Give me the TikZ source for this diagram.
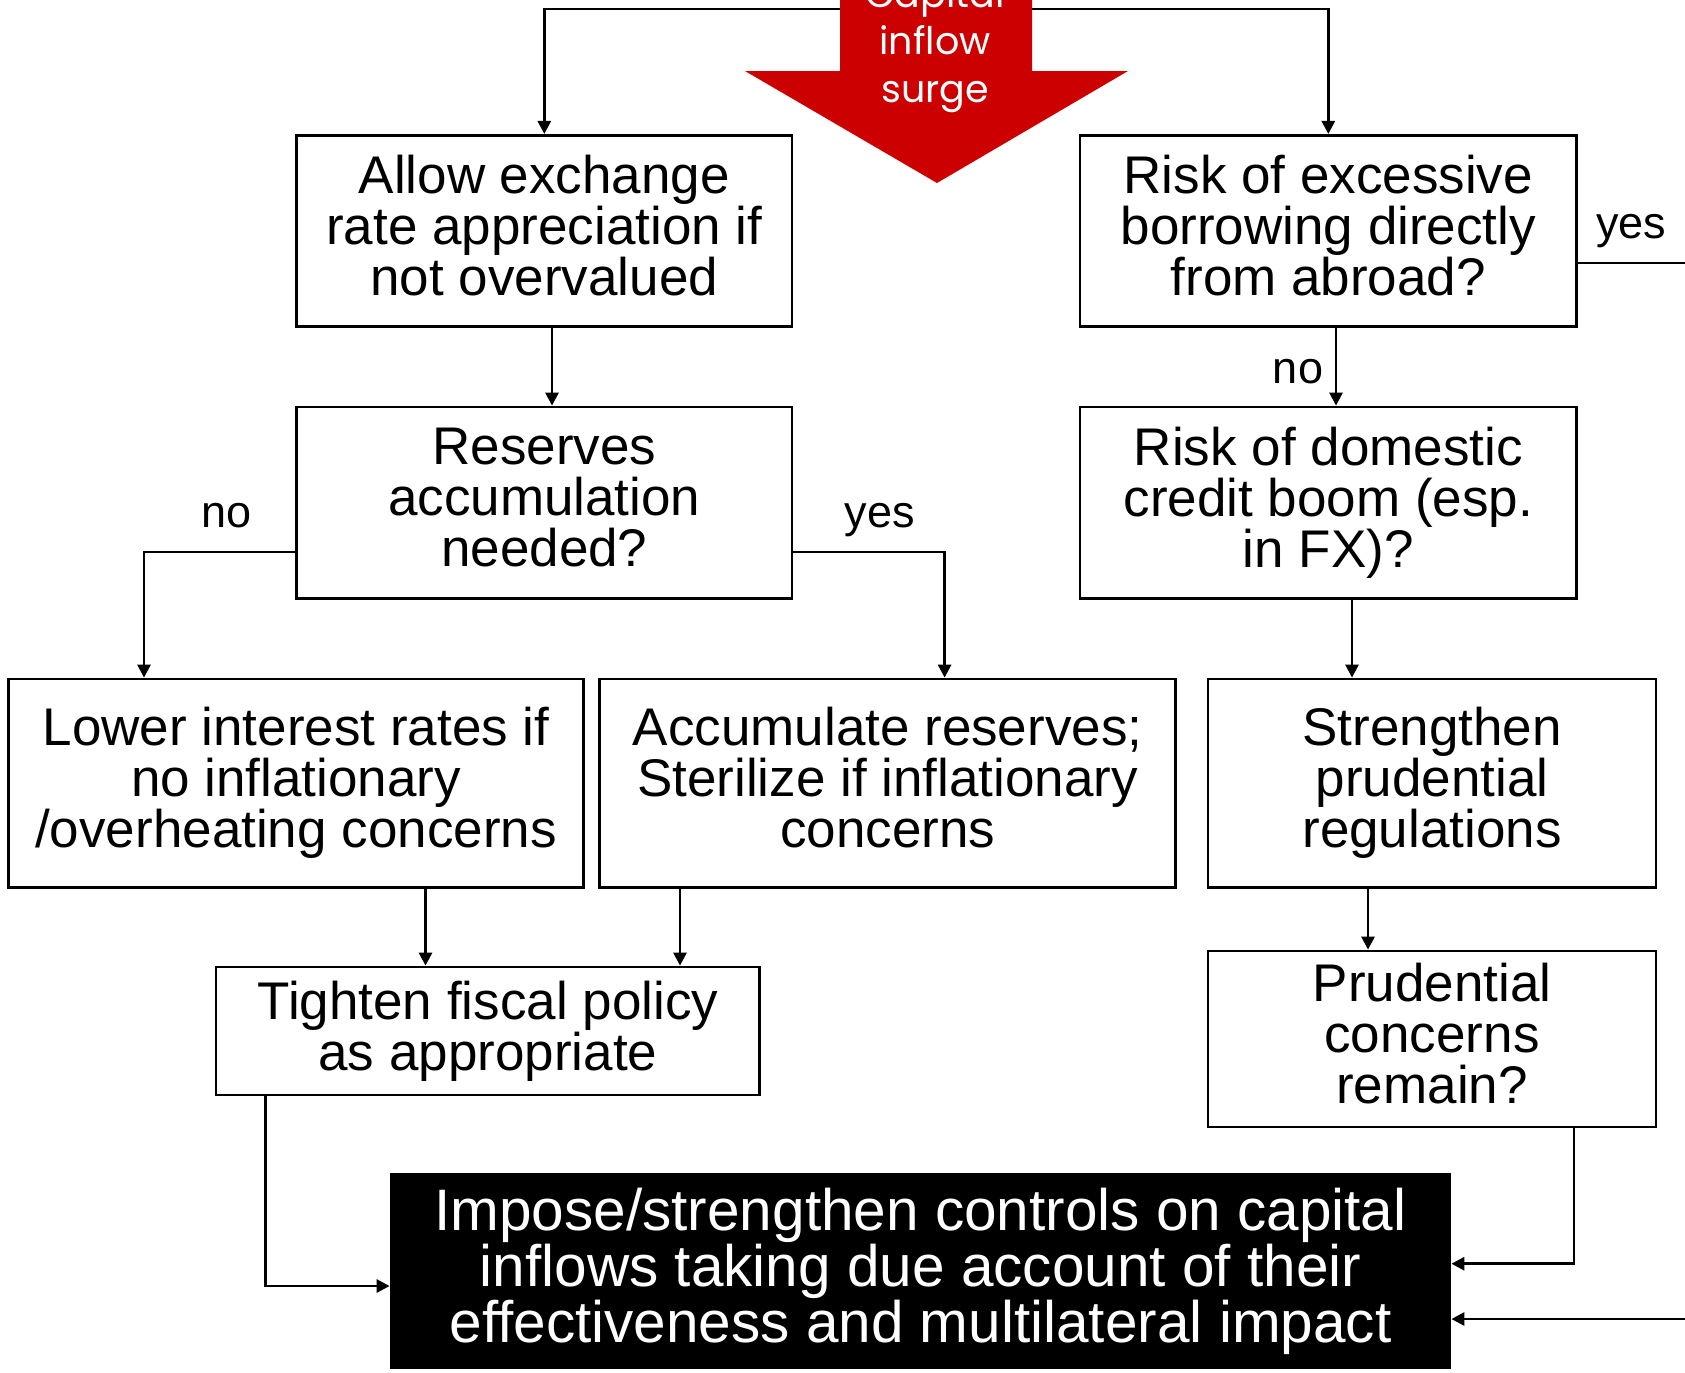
\documentclass[tikz,border=0pt]{standalone}
\usepackage{fontspec}
\setmainfont{Liberation Sans}
\newfontfamily\arrowfont{Poppins}
\usetikzlibrary{arrows.meta}
\definecolor{surgered}{RGB}{204,0,0}
\newcommand\bxstrut{\rule[-0.21em]{0pt}{0.96em}}
\begin{document}
\begin{tikzpicture}[x=0.5pt,y=-0.5pt,
 box/.style={draw, line width=1.4pt, inner sep=0pt, align=center, font=\fontsize{26.5}{25.5}\selectfont,
   execute at begin node=\bxstrut, execute at end node=\bxstrut},
 arr/.style={line width=1.4pt, -{Triangle[length=6.5pt,width=6.5pt]}},
 lbl/.style={font=\fontsize{22.5}{27}\selectfont, inner sep=0pt},
 ln/.style={line width=1.4pt}]
\useasboundingbox (0,0) rectangle (1685,1372);
\clip (0,0) rectangle (1685,1372);
\fill[white] (0,0) rectangle (1685,1372);

% boxes
\node[box, minimum width=247.7pt, minimum height=95.65pt] (A) at (544.3,231) {Allow exchange\\rate appreciation if\\not overvalued};
\node[box, minimum width=248.25pt, minimum height=95.65pt] (B) at (1328.3,231) {Risk of excessive\\borrowing directly\\from abroad?};
\node[box, minimum width=247.7pt, minimum height=95.8pt] (C) at (544.3,502.8) {Reserves\\accumulation\\needed?};
\node[box, minimum width=248.25pt, minimum height=95.8pt] (D) at (1328.3,502.8) {Risk of domestic\\credit boom (esp.\\in FX)?};
\node[box, minimum width=287.5pt, minimum height=104.3pt] (E) at (296,783.3) {Lower interest rates if\\no inflationary\\/overheating concerns};
\node[box, minimum width=288pt, minimum height=104.3pt] (F) at (887.6,783.3) {Accumulate reserves;\\Sterilize if inflationary\\concerns};
\node[box, minimum width=224pt, minimum height=104.3pt] (G) at (1432,783.3) {Strengthen\\prudential\\regulations};
\node[box, minimum width=271.85pt, minimum height=64pt] (H) at (487.9,1031) {Tighten fiscal policy\\as appropriate};
\node[box, minimum width=224pt, minimum height=88pt] (I) at (1432,1039) {Prudential\\concerns\\remain?};
\node[box, fill=black, text=white, minimum width=529.5pt, minimum height=96.75pt, font=\fontsize{29.25}{28}\selectfont] (J) at (920.5,1271) {Impose/strengthen controls on capital\\inflows taking due account of their\\effectiveness and multilateral impact};

% top connectors
\coordinate (sl) at (900,9);
\coordinate (sr) at (980,9);
\draw[arr] (sl) -| (A.north);
\draw[arr] (sr) -| (B.north);

% red arrow
\fill[surgered] (840,-60) -- (840,71) -- (745,71) -- (937,183) -- (1128,71) -- (1032,71) -- (1032,-60) -- cycle;
\node[text=white, align=center, inner sep=0pt, font=\arrowfont\fontsize{19}{23.8}\selectfont] (T) at (935,45.5) {Capital\\inflow\\surge};

% connectors
\coordinate (xAC) at (552,0);
\draw[arr] (A.south -| xAC) -- (C.north -| xAC);
\coordinate (xBD) at (1336,0);
\draw[arr] (B.south -| xBD) -- (D.north -| xBD);
\node[lbl] (noB) at (1298,371.6) {no};

\coordinate (yC) at (0,552);
\coordinate (xE) at (144,0);
\draw[arr] (C.west |- yC) -| (E.north -| xE);
\coordinate (xF) at (944.6,0);
\draw[arr] (C.east |- yC) -| (F.north -| xF);
\node[lbl] (noC) at (226.7,515.6) {no};
\node[lbl] (yesC) at (880,520) {yes};

\coordinate (xDG) at (1352,0);
\draw[arr] (D.south -| xDG) -- (G.north -| xDG);
\coordinate (xGI) at (1368,0);
\draw[arr] (G.south -| xGI) -- (I.north -| xGI);
\coordinate (xEH) at (425.5,0);
\draw[arr] (E.south -| xEH) -- (H.north -| xEH);
\coordinate (xFH) at (680,0);
\draw[arr] (F.south -| xFH) -- (H.north -| xFH);

\coordinate (hj) at (265.4,1286);
\draw[arr] (H.south -| hj) -- (hj) -- (J.west |- hj);
\coordinate (ij) at (1574,1263.7);
\draw[arr] (I.south -| ij) -- (ij) -- (J.east |- ij);

\coordinate (byes) at (1695,263);
\draw[ln] (B.east |- byes) -- (byes);
\node[lbl] (yesB) at (1631,231) {yes};
\coordinate (bin) at (1695,1319);
\draw[arr] (bin) -- (J.east |- bin);
\end{tikzpicture}
\end{document}
